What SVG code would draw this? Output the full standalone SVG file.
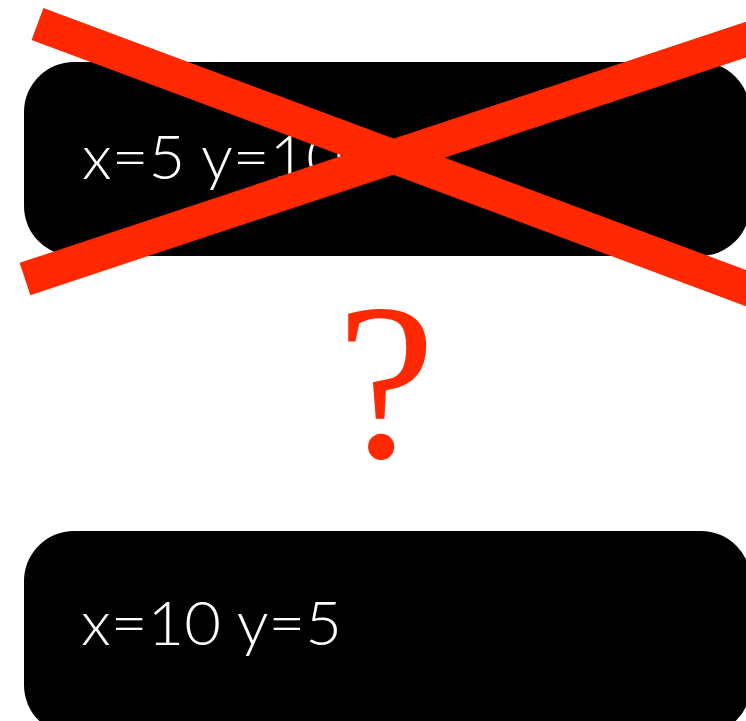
<svg xmlns="http://www.w3.org/2000/svg" width="746" height="721" viewBox="0 0 746 721">
  <style>
    .box { fill: #000000; }
    .lbl { fill: #ffffff; font-family: "Lato", "Liberation Sans", Arial, sans-serif; font-weight: 300; font-size: 61px; }
    .cross { stroke: #ff2800; stroke-width: 34; fill: none; }
    .q { fill: #ff2800; font-family: "Liberation Serif", "Times New Roman", serif; font-size: 222px; }
  </style>
  <rect width="746" height="721" fill="#ffffff"/>
  <g id="node-top">
    <rect class="box" x="24" y="62" width="726" height="194" rx="50" ry="50"/>
    <text class="lbl" x="82" y="179" textLength="261" lengthAdjust="spacingAndGlyphs">x=5 y=10</text>
  </g>
  <g id="node-bottom">
    <rect class="box" x="24" y="531" width="727" height="204" rx="50" ry="50"/>
    <text class="lbl" x="81" y="645" textLength="261" lengthAdjust="spacingAndGlyphs">x=10 y=5</text>
  </g>
  <g id="connectors">
    <line class="cross" x1="37.5" y1="24" x2="790" y2="304.5"/>
    <line class="cross" x1="25" y1="279" x2="790" y2="25"/>
  </g>
  <g id="question">
    <text class="q" x="386" y="457" text-anchor="middle">?</text>
  </g>
</svg>
